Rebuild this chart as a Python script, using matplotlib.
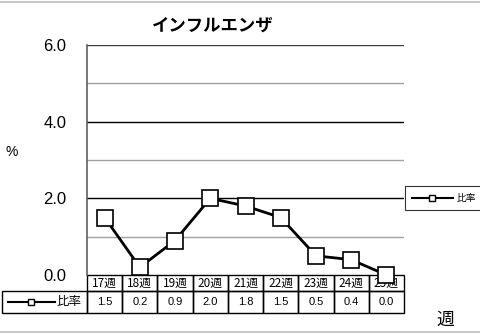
import matplotlib.pyplot as plt
from matplotlib.lines import Line2D
from matplotlib.patches import Rectangle
from matplotlib.transforms import blended_transform_factory

TITLE = 'インフルエンザ'
weeks = ['17週', '18週', '19週', '20週', '21週', '22週', '23週', '24週', '25週']
ratio = [1.5, 0.2, 0.9, 2.0, 1.8, 1.5, 0.5, 0.4, 0.0]
series_name = '比率'
yticks = [0.0, 2.0, 4.0, 6.0]

JP = ['Noto Sans CJK JP', 'DejaVu Sans']
NUM = ['Liberation Sans', 'DejaVu Sans']

fig = plt.figure(figsize=(4.8, 3.34), dpi=100)
W, H = 480, 334
L, R, T, B = 87, 404, 45, 275
ax = fig.add_axes([L / W, 1 - B / H, (R - L) / W, (B - T) / H])

n = len(weeks)
xs = [i + 0.5 for i in range(n)]
ax.set_xlim(0, n)
ax.set_ylim(0, 6)

# grid: major black, minor gray
for y in [1, 3, 5]:
    ax.axhline(y, color='#a0a0a0', lw=1, zorder=1)
for y in [2, 4]:
    ax.axhline(y, color='black', lw=1, zorder=1)
ax.axhline(6, color='#404040', lw=1, zorder=1)

for s in ['top', 'right', 'bottom']:
    ax.spines[s].set_visible(False)
ax.spines['left'].set_color('#606060')
ax.spines['left'].set_linewidth(1.2)

ax.plot(xs, ratio, color='black', lw=2, marker='s', ms=11,
        mfc='white', mec='black', mew=1.2, clip_on=False, zorder=5)

ax.set_xticks([])
ax.set_yticks(yticks)
ax.set_yticklabels(['%.1f' % v for v in yticks], family=NUM, fontsize=12)
ax.tick_params(axis='y', length=0, pad=15)

fig.text(5 / W, 1 - 152 / H, '%', family=NUM, fontsize=10, va='center')
fig.text(445 / W, 1 - 320 / H, '週', family=JP, fontsize=13, ha='center', va='center')
fig.text(213 / W, 1 - 26 / H, TITLE, family=JP, fontsize=12.5, ha='center',
         va='center', fontweight='bold')

# data table under the axis
ph = B - T
hdr = 16 / ph
row = 22 / ph
bt = blended_transform_factory(ax.transData, ax.transAxes)
for i, (wk, v) in enumerate(zip(weeks, ratio)):
    ax.add_patch(Rectangle((i, -hdr), 1, hdr, transform=bt, fill=False,
                           ec='black', lw=1, clip_on=False, zorder=2))
    ax.add_patch(Rectangle((i, -hdr - row), 1, row, transform=bt, fill=False,
                           ec='black', lw=1, clip_on=False, zorder=2))
    ax.text(i + 0.5, -hdr / 2, wk, transform=bt, ha='center', va='center',
            family=JP, fontsize=8.5, clip_on=False, zorder=3)
    ax.text(i + 0.5, -hdr - row / 2, '%.1f' % v, transform=bt, ha='center',
            va='center', family=NUM, fontsize=8, clip_on=False, zorder=3)

# row label cell
x0 = (2 - L) / (R - L)
ax.add_patch(Rectangle((x0, -hdr - row), -x0, row, transform=ax.transAxes,
                       fill=False, ec='black', lw=1, clip_on=False))
ax.add_line(Line2D([(8 - L) / (R - L), (55 - L) / (R - L)], [-hdr - row / 2] * 2,
                   transform=ax.transAxes, color='black', lw=1.5, clip_on=False))
ax.add_line(Line2D([(31 - L) / (R - L)], [-hdr - row / 2], transform=ax.transAxes,
                   marker='s', ms=4, mfc='white', mec='black', clip_on=False))
ax.text((82 - L) / (R - L), -hdr - row / 2, series_name, transform=ax.transAxes,
        ha='right', va='center', family=JP, fontsize=9)

# legend on the right
leg = ax.legend([Line2D([], [], color='black', lw=1.5, marker='s', ms=4,
                        mfc='white', mec='black')], [series_name],
                loc='center left', bbox_to_anchor=(1.0, 0.335), prop={'family': JP, 'size': 7},
                frameon=True, fancybox=False, handlelength=4.2, handletextpad=0.4,
                borderpad=0.7, borderaxespad=0.1)
leg.get_frame().set_edgecolor('black')
leg.get_frame().set_linewidth(0.8)

# gray frame lines at top and bottom of the picture
fig.add_artist(Line2D([0, 1], [1 - 2 / H, 1 - 2 / H], transform=fig.transFigure,
                      color='#c8c8c8', lw=1.5))
fig.add_artist(Line2D([0, 1], [1 - 332 / H, 1 - 332 / H], transform=fig.transFigure,
                      color='#c8c8c8', lw=1.5))

fig.savefig('out.png', dpi=100)
